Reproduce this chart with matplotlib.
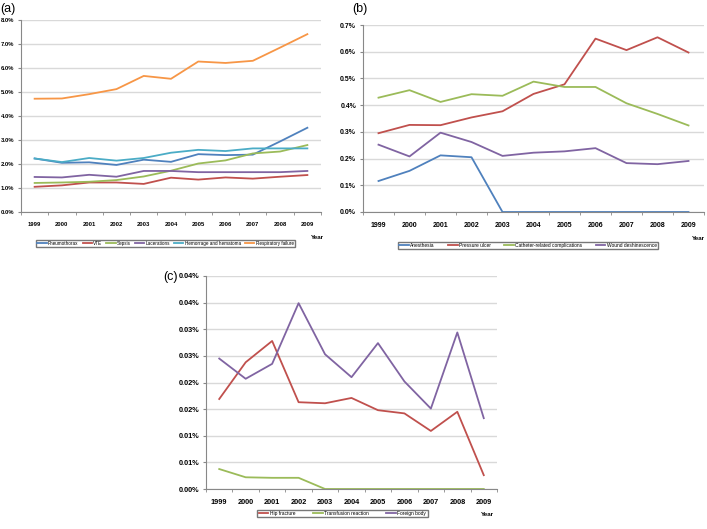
import numpy as np
import matplotlib
matplotlib.use('Agg')
import matplotlib.pyplot as plt

plt.rcParams['font.family'] = ['Liberation Sans', 'DejaVu Sans']

years = ['1999', '2000', '2001', '2002', '2003', '2004', '2005', '2006', '2007', '2008', '2009']

# Panel (a), percent
pneumothorax = [2.23, 2.05, 2.07, 1.96, 2.18, 2.09, 2.41, 2.37, 2.39, 2.94, 3.51]
vte = [1.05, 1.11, 1.23, 1.23, 1.17, 1.43, 1.35, 1.44, 1.39, 1.47, 1.54]
sepsis = [1.21, 1.23, 1.26, 1.33, 1.48, 1.72, 2.02, 2.15, 2.44, 2.52, 2.79]
lacerations = [1.46, 1.44, 1.55, 1.47, 1.71, 1.71, 1.66, 1.66, 1.66, 1.66, 1.71]
hemorrhage = [2.23, 2.08, 2.25, 2.14, 2.25, 2.47, 2.59, 2.54, 2.65, 2.65, 2.65]
respiratory = [4.72, 4.73, 4.91, 5.12, 5.67, 5.55, 6.27, 6.21, 6.30, 6.85, 7.41]

# Panel (b), percent
anesthesia = [0.116, 0.154, 0.212, 0.205, 0.0, 0.0, 0.0, 0.0, 0.0, 0.0, 0.0]
pressure_ulcer = [0.295, 0.326, 0.325, 0.354, 0.377, 0.442, 0.478, 0.649, 0.606, 0.654, 0.597]
catheter = [0.428, 0.456, 0.412, 0.441, 0.435, 0.488, 0.468, 0.468, 0.407, 0.367, 0.324]
wound = [0.252, 0.208, 0.297, 0.262, 0.210, 0.222, 0.227, 0.239, 0.183, 0.179, 0.191]

# Panel (c), percent
hip_fracture = [0.0169, 0.0238, 0.0278, 0.0163, 0.0161, 0.0171, 0.0148, 0.0142, 0.0109, 0.0145, 0.0026]
transfusion = [0.00375, 0.0022, 0.0021, 0.0021, 0.0, 0.0, 0.0, 0.0, 0.0, 0.0, 0.0]
foreign_body = [0.0245, 0.0207, 0.0235, 0.0349, 0.0253, 0.0210, 0.0274, 0.0202, 0.0151, 0.0294, 0.0133]
c_ticks = [0.0, 0.005, 0.01, 0.015, 0.02, 0.025, 0.03, 0.035, 0.04]
c_labels = ['0.00%', '0.01%', '0.01%', '0.02%', '0.02%', '0.03%', '0.03%', '0.04%', '0.04%']

BLUE = '#4F81BD'
RED = '#C0504D'
GREEN = '#9BBB59'
PURPLE = '#8064A2'
AQUA = '#4BACC6'
ORANGE = '#F79646'
AXC = '#888888'

fig = plt.figure(figsize=(7.07, 5.29), dpi=100)
W, H = 707.0, 529.0


def make_ax(left, top, right, bottom):
    return fig.add_axes([left / W, 1 - bottom / H, (right - left) / W, (bottom - top) / H])


def style(ax, ymax, yticks, ylabels, fs):
    x = np.arange(len(years))
    ax.set_xlim(-0.5, len(years) - 0.5)
    ax.set_ylim(0, ymax)
    ax.set_xticks(x)
    ax.set_xticklabels(years, fontsize=fs, fontweight='bold')
    ax.set_xticks(np.arange(-0.5, len(years)), minor=True)
    ax.tick_params(axis='x', which='major', length=0, pad=7)
    ax.tick_params(axis='x', which='minor', length=2, color=AXC, direction='out')
    ax.set_yticks(yticks)
    ax.set_yticklabels(ylabels, fontsize=fs, fontweight='bold')
    ax.tick_params(axis='y', length=2, color=AXC, pad=3)
    ax.grid(axis='y', color='#D9D9D9', linewidth=1.0)
    ax.set_axisbelow(True)
    for s in ['top', 'right']:
        ax.spines[s].set_visible(False)
    for s in ['left', 'bottom']:
        ax.spines[s].set_color(AXC)
        ax.spines[s].set_linewidth(0.8)


def add_legend(ax, cx, cy, ncol, fs, colsp):
    ax.legend(loc='center', bbox_to_anchor=(cx / W, 1 - cy / H), bbox_transform=fig.transFigure,
              ncol=ncol, fontsize=fs, frameon=True, fancybox=False, edgecolor='#555555',
              handlelength=2.0, handletextpad=0.3, columnspacing=colsp, borderpad=0.3)


x = np.arange(len(years))

# (a)
ax1 = make_ax(21, 20, 321, 212)
for vals, col, lab in [(pneumothorax, BLUE, 'Pneumothorax'), (vte, RED, 'VTE'),
                       (sepsis, GREEN, 'Sepsis'), (lacerations, PURPLE, 'Lacerations'),
                       (hemorrhage, AQUA, 'Hemorrage and hematoma'),
                       (respiratory, ORANGE, 'Respiratory failure')]:
    ax1.plot(x, vals, color=col, lw=1.3, label=lab)
a_ticks = np.arange(0, 9)
style(ax1, 8, a_ticks, ['%.1f%%' % t for t in a_ticks], 4.2)
add_legend(ax1, 165.5, 243.5, 6, 3.3, 0.9)
fig.text(317 / W, 1 - 237 / H, 'Year', fontsize=4.5, fontweight='bold', ha='center', va='center')
fig.text(0 / W, 1 - 9 / H, '(a)', fontsize=9, ha='left', va='center')

# (b)
ax2 = make_ax(363, 25, 704, 212)
for vals, col, lab in [(anesthesia, BLUE, 'Anesthesia'), (pressure_ulcer, RED, 'Pressure ulcer'),
                       (catheter, GREEN, 'Catheter-related complications'),
                       (wound, PURPLE, 'Wound deshinescence')]:
    ax2.plot(x, vals, color=col, lw=1.3, label=lab)
b_ticks = np.arange(0, 8) / 10
style(ax2, 0.7, b_ticks, ['%.1f%%' % t for t in b_ticks], 5)
add_legend(ax2, 528, 245.5, 4, 3.5, 2.7)
fig.text(698 / W, 1 - 238 / H, 'Year', fontsize=4.5, fontweight='bold', ha='center', va='center')
fig.text(352 / W, 1 - 9 / H, '(b)', fontsize=9, ha='left', va='center')

# (c)
ax3 = make_ax(206, 276, 497, 489)
for vals, col, lab in [(hip_fracture, RED, 'Hip fracture'), (transfusion, GREEN, 'Transfusion reaction'),
                       (foreign_body, PURPLE, 'Foreign body')]:
    ax3.plot(x, vals, color=col, lw=1.3, label=lab)
style(ax3, 0.04, c_ticks, c_labels, 5.3)
add_legend(ax3, 342.5, 513.5, 3, 3.5, 3.6)
fig.text(487 / W, 1 - 515 / H, 'Year', fontsize=4.5, fontweight='bold', ha='center', va='center')
fig.text(163 / W, 1 - 277 / H, '(c)', fontsize=9, ha='left', va='center')

fig.savefig('out.png', dpi=100)
